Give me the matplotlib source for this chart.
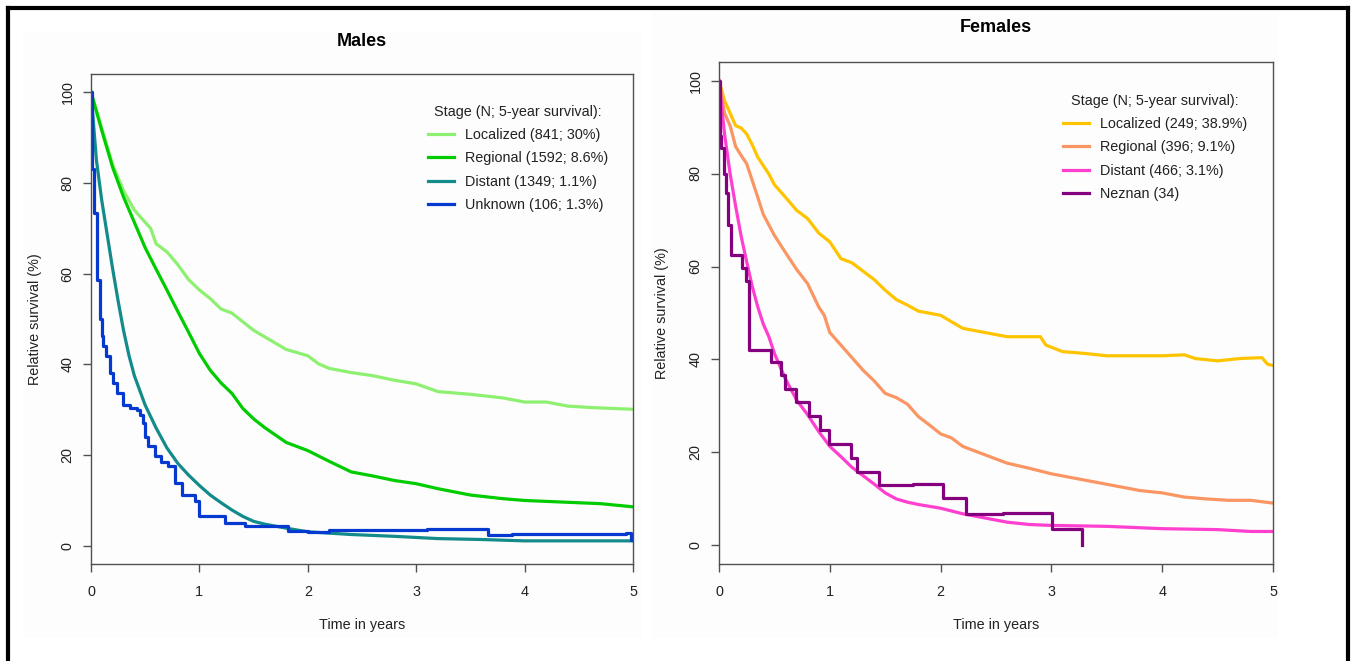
import matplotlib
matplotlib.use("Agg")
import matplotlib.pyplot as plt
from matplotlib.lines import Line2D
from matplotlib.patches import Rectangle

plt.rcParams['font.family'] = ['Liberation Sans', 'DejaVu Sans']

W, H = 1353, 661

# ---------------- data: Males ----------------
m_loc_t = [0, 0.1, 0.2, 0.3, 0.4, 0.5, 0.55, 0.6, 0.7, 0.8, 0.9, 1.0, 1.1, 1.2, 1.3, 1.4, 1.5,
           1.6, 1.7, 1.8, 2.0, 2.1, 2.2, 2.4, 2.6, 2.8, 3.0, 3.2, 3.5, 3.8, 4.0, 4.2, 4.4, 4.6, 5.0]
m_loc_v = [100, 92, 84, 78.3, 74, 71.3, 70, 66.6, 64.8, 62, 58.7, 56.4, 54.5, 52.2, 51.3, 49.4, 47.5,
           46.1, 44.7, 43.3, 41.9, 40.1, 39.1, 38.2, 37.5, 36.5, 35.7, 34, 33.4, 32.6, 31.7, 31.7, 30.8, 30.5, 30.1]

m_reg_t = [0, 0.1, 0.2, 0.3, 0.4, 0.5, 0.6, 0.7, 0.8, 0.9, 1.0, 1.1, 1.2, 1.3, 1.4, 1.5, 1.6, 1.8,
           2.0, 2.2, 2.4, 2.6, 2.8, 3.0, 3.2, 3.5, 3.8, 4.0, 4.4, 4.7, 5.0]
m_reg_v = [100, 91.5, 83.4, 76.9, 71.3, 65.7, 61, 56.4, 51.7, 47.1, 42.4, 38.7, 35.9, 33.6, 30.3, 28, 26.1, 22.8,
           21, 18.6, 16.3, 15.4, 14.4, 13.7, 12.6, 11.2, 10.4, 10, 9.6, 9.3, 8.6]

m_dis_t = [0, 0.05, 0.1, 0.15, 0.2, 0.25, 0.3, 0.35, 0.4, 0.5, 0.6, 0.7, 0.8, 0.9, 1.0, 1.1, 1.2, 1.3,
           1.4, 1.5, 1.6, 1.8, 2.0, 2.4, 2.8, 3.2, 3.6, 4.0, 5.0]
m_dis_v = [100, 85, 76, 68.5, 61, 54, 47.5, 42, 37.5, 31, 26, 21.6, 18.2, 15.6, 13.3, 11.2, 9.5, 7.9,
           6.5, 5.4, 4.8, 3.9, 3.1, 2.5, 2.1, 1.6, 1.4, 1.1, 1.1]

m_unk_t = [0, 0.005, 0.024, 0.055, 0.08, 0.098, 0.11, 0.141, 0.172, 0.2, 0.237, 0.298, 0.36, 0.421, 0.45,
           0.483, 0.5, 0.529, 0.59, 0.65, 0.713, 0.775, 0.836, 0.96, 1.0, 1.236, 1.42, 1.82, 2.0, 2.2,
           3.1, 3.66, 3.88, 4.94, 4.98, 5.0]
m_unk_v = [100, 83, 73.4, 58.7, 50, 46.2, 44, 41.8, 38.1, 36, 33.7, 31.1, 30.3, 30, 28.9,
           27.1, 24, 21.9, 19.7, 18.5, 17.5, 13.8, 11.3, 9.8, 6.5, 5.0, 4.3, 3.3, 3.0, 3.4,
           3.7, 2.3, 2.6, 2.8, 1.3, 1.3]

# ---------------- data: Females ----------------
f_loc_t = [0, 0.05, 0.1, 0.15, 0.2, 0.25, 0.3, 0.35, 0.4, 0.45, 0.5, 0.6, 0.7, 0.8, 0.9, 1.0, 1.1, 1.2,
           1.3, 1.4, 1.5, 1.6, 1.7, 1.8, 2.0, 2.1, 2.2, 2.4, 2.6, 2.8, 2.9, 2.95, 3.1, 3.3, 3.5, 3.8,
           4.0, 4.2, 4.3, 4.5, 4.7, 4.9, 4.95, 5.0]
f_loc_v = [100, 95.7, 93, 90.3, 89.8, 88.5, 86.2, 83.5, 81.7, 79.9, 77.6, 74.9, 72.1, 70.3, 67.2, 65.3, 61.7, 60.8,
           59, 57.2, 54.9, 52.9, 51.7, 50.4, 49.5, 48.1, 46.7, 45.8, 44.9, 44.9, 44.9, 43.1, 41.7, 41.3, 40.8, 40.8,
           40.8, 41, 40.2, 39.7, 40.2, 40.4, 39, 38.7]

f_reg_t = [0, 0.05, 0.1, 0.15, 0.2, 0.25, 0.3, 0.35, 0.4, 0.5, 0.6, 0.7, 0.8, 0.9, 0.95, 1.0, 1.1, 1.2,
           1.3, 1.4, 1.5, 1.6, 1.7, 1.8, 1.9, 2.0, 2.1, 2.2, 2.4, 2.6, 2.8, 3.0, 3.2, 3.4, 3.6, 3.8,
           4.0, 4.2, 4.4, 4.6, 4.8, 5.0]
f_reg_v = [100, 93, 90.3, 85.8, 83.9, 82.1, 78.5, 74.9, 71.2, 66.7, 63, 59.4, 56.3, 51.3, 49.5, 45.8, 43.1, 40.4,
           37.7, 35.4, 32.7, 31.8, 30.4, 27.7, 25.9, 24, 23.1, 21.3, 19.5, 17.7, 16.6, 15.4, 14.5, 13.6, 12.7, 11.8,
           11.3, 10.4, 10, 9.7, 9.7, 9.1]

f_dis_t = [0, 0.05, 0.1, 0.15, 0.2, 0.25, 0.3, 0.35, 0.4, 0.45, 0.5, 0.6, 0.7, 0.8, 0.9, 1.0, 1.1, 1.2,
           1.3, 1.4, 1.5, 1.6, 1.7, 1.8, 2.0, 2.2, 2.4, 2.6, 2.8, 3.0, 3.5, 4.0, 4.5, 4.8, 5.0]
f_dis_v = [100, 88.5, 80, 73, 66.5, 61, 55.7, 51.3, 47.6, 44.9, 41.3, 35.8, 31.3, 28.1, 24.5, 21.3, 19.1, 16.8,
           15, 13.2, 11.3, 10, 9.3, 8.8, 8, 6.8, 5.9, 5, 4.5, 4.3, 4.1, 3.6, 3.4, 3.0, 3.0]

f_unk_t = [0, 0.005, 0.02, 0.047, 0.065, 0.085, 0.106, 0.204, 0.244, 0.275, 0.468, 0.558, 0.597, 0.696,
           0.814, 0.912, 0.99, 1.187, 1.246, 1.443, 1.75, 2.024, 2.229, 2.56, 3.007, 3.28]
f_unk_v = [100, 88, 85.5, 80, 75.8, 69, 62.5, 59.7, 56.8, 42.1, 39.4, 36.7, 33.6, 30.8,
           27.9, 24.9, 21.8, 18.8, 15.9, 13.1, 13.3, 10.2, 6.8, 7.0, 3.5, 0]

legend_title = "Stage (N; 5-year survival):"
m_labels = ["Localized (841; 30%)", "Regional (1592; 8.6%)", "Distant (1349; 1.1%)", "Unknown (106; 1.3%)"]
f_labels = ["Localized (249; 38.9%)", "Regional (396; 9.1%)", "Distant (466; 3.1%)", "Neznan (34)"]
m_colors = ["#8EF070", "#00CC00", "#138B8B", "#0539D0"]
f_colors = ["#FFC400", "#FA9664", "#FF3FCF", "#84007F"]

x_ticks = [0, 1, 2, 3, 4, 5]
y_ticks = [0, 20, 40, 60, 80, 100]

FS = 10.4
LW = 2.3
AX_COL = "#505050"

fig = plt.figure(figsize=(W / 100, H / 100), dpi=100)
fig.patch.set_facecolor("white")


def px_rect(x0, y0, x1, y1):
    return [x0 / W, 1 - y1 / H, (x1 - x0) / W, (y1 - y0) / H]


# very faint panel backgrounds
for (x0, y0, x1, y1) in [(23, 32, 642, 638), (652, 12, 1278, 638)]:
    fig.add_artist(Rectangle((x0 / W, 1 - y1 / H), (x1 - x0) / W, (y1 - y0) / H,
                             transform=fig.transFigure, facecolor="#FDFDFD", edgecolor="none", zorder=0))

axL = fig.add_axes(px_rect(91, 74, 633, 564))
axR = fig.add_axes(px_rect(719, 62, 1273, 564))


def style(ax, title, box):
    x0, y0, x1, y1 = box
    ax.set_facecolor("none")
    ax.set_xlim(0, 5)
    ax.set_ylim(-4, 104)
    ax.set_xticks(x_ticks)
    ax.set_yticks(y_ticks)
    ax.set_xticklabels([str(v) for v in x_ticks])
    ax.set_yticklabels([str(v) for v in y_ticks], rotation=90, va="center")
    for s in ax.spines.values():
        s.set_color(AX_COL)
        s.set_linewidth(1.0)
    ax.tick_params(direction="out", length=5.8, width=1.0, color=AX_COL,
                   labelsize=FS, labelcolor="#222222")
    ax.tick_params(axis="x", pad=9)
    ax.tick_params(axis="y", pad=6)
    w = x1 - x0
    h = y1 - y0
    ax.set_xlabel("Time in years", fontsize=FS, color="#222222", va="center")
    ax.xaxis.set_label_coords(0.5, -(625 - y1) / h)
    ax.set_ylabel("Relative survival (%)", fontsize=FS, color="#222222", va="center")
    ax.yaxis.set_label_coords(-(x0 - 35 if x0 < 300 else x0 - 662) / w, 0.5)
    ty = 42 if x0 < 300 else 28
    ax.set_title(title, fontsize=13, fontweight="bold", y=1 + (y0 - ty) / h, va="center", pad=0)


style(axL, "Males", (91, 74, 633, 564))
style(axR, "Females", (719, 62, 1273, 564))

# Males curves
axL.plot(m_loc_t, m_loc_v, color=m_colors[0], lw=LW)
axL.plot(m_reg_t, m_reg_v, color=m_colors[1], lw=LW)
axL.plot(m_dis_t, m_dis_v, color=m_colors[2], lw=LW)
axL.plot(m_unk_t, m_unk_v, color=m_colors[3], lw=LW, drawstyle="steps-post")

# Females curves
axR.plot(f_loc_t, f_loc_v, color=f_colors[0], lw=LW)
axR.plot(f_reg_t, f_reg_v, color=f_colors[1], lw=LW)
axR.plot(f_dis_t, f_dis_v, color=f_colors[2], lw=LW)
axR.plot(f_unk_t, f_unk_v, color=f_colors[3], lw=LW, drawstyle="steps-post")


def add_legend(ax, labels, colors, anchor):
    handles = [Line2D([0], [0], color=c, lw=LW) for c in colors]
    leg = ax.legend(handles, labels, title=legend_title, loc="upper left", bbox_to_anchor=anchor,
                    bbox_transform=ax.transAxes, frameon=False, fontsize=FS, title_fontsize=FS,
                    handlelength=1.8, handletextpad=0.75, labelspacing=0.64, borderpad=0,
                    borderaxespad=0)
    for t in leg.get_texts():
        t.set_color("#222222")
    leg.get_title().set_color("#222222")


add_legend(axL, m_labels, m_colors, ((428 - 91) / 542, (564 - 105) / 490))
add_legend(axR, f_labels, f_colors, ((1063 - 719) / 554, (564 - 94) / 502))

# outer black frame (left, top, right)
fr = dict(color="black", lw=3.0, transform=fig.transFigure, solid_capstyle="projecting")
fig.add_artist(Line2D([8 / W, 8 / W], [0, 1 - 8 / H], **fr))
fig.add_artist(Line2D([8 / W, 1348 / W], [1 - 8 / H, 1 - 8 / H], **fr))
fig.add_artist(Line2D([1348 / W, 1348 / W], [1 - 8 / H, 0], **fr))

fig.savefig("out.png", dpi=100, facecolor="white")
